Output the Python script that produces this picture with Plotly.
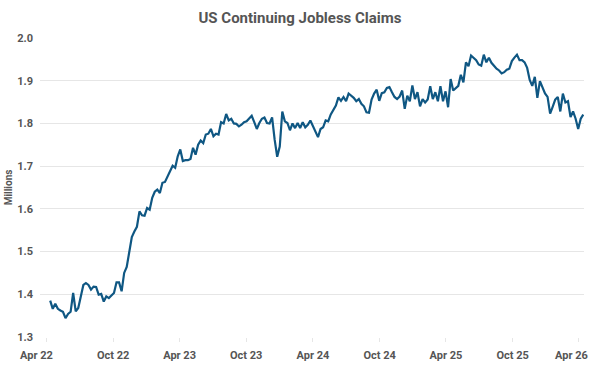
import pandas as pd
import plotly.graph_objects as go

# Weekly US continuing jobless claims, millions
claims_2022 = [1.385, 1.366, 1.378, 1.366, 1.362, 1.359, 1.344, 1.354, 1.359, 1.403,
               1.360, 1.368, 1.395, 1.422, 1.426, 1.422, 1.411, 1.418, 1.417, 1.399,
               1.401, 1.383, 1.395, 1.391, 1.397, 1.403, 1.428, 1.428, 1.407, 1.450,
               1.464, 1.504, 1.534, 1.547, 1.558, 1.594, 1.585, 1.584, 1.602, 1.598,
               1.626, 1.640, 1.645, 1.637, 1.661, 1.663, 1.676, 1.692, 1.701, 1.696,
               1.723, 1.739]
claims_2023 = [1.712, 1.714, 1.714, 1.717, 1.743, 1.727, 1.750, 1.760, 1.754, 1.774,
               1.776, 1.787, 1.770, 1.776, 1.774, 1.803, 1.800, 1.822, 1.807, 1.811,
               1.800, 1.799, 1.793, 1.797, 1.803, 1.805, 1.811, 1.818, 1.803, 1.787,
               1.801, 1.811, 1.814, 1.801, 1.800, 1.814, 1.762, 1.722, 1.746, 1.828,
               1.805, 1.801, 1.784, 1.800, 1.789, 1.801, 1.789, 1.803, 1.791, 1.797,
               1.807, 1.793, 1.779]
claims_2024 = [1.768, 1.787, 1.791, 1.807, 1.805, 1.821, 1.831, 1.842, 1.861, 1.853,
               1.862, 1.852, 1.870, 1.865, 1.860, 1.852, 1.857, 1.846, 1.840, 1.826,
               1.825, 1.856, 1.870, 1.879, 1.853, 1.871, 1.873, 1.883, 1.885, 1.873,
               1.862, 1.857, 1.863, 1.877, 1.834, 1.865, 1.852, 1.889, 1.857, 1.873,
               1.840, 1.857, 1.849, 1.856, 1.887, 1.857, 1.873, 1.852, 1.887, 1.852]
claims_2025 = [1.875, 1.838, 1.904, 1.877, 1.883, 1.888, 1.914, 1.896, 1.943, 1.934,
               1.959, 1.954, 1.948, 1.938, 1.935, 1.961, 1.943, 1.954, 1.942, 1.935,
               1.928, 1.924, 1.917, 1.920, 1.926, 1.928, 1.946, 1.954, 1.961, 1.948,
               1.948, 1.943, 1.930, 1.902, 1.888, 1.909, 1.860, 1.899, 1.883, 1.870,
               1.862, 1.823, 1.839, 1.856, 1.862, 1.828, 1.870, 1.849, 1.852, 1.815,
               1.828, 1.811, 1.787, 1.811, 1.821]

values = claims_2022 + claims_2023 + claims_2024 + claims_2025
dates = pd.date_range("2022-04-11", periods=len(values), freq="7D")

tick_dates = ["2022-04-01", "2022-10-01", "2023-04-01", "2023-10-01", "2024-04-01",
              "2024-10-01", "2025-04-01", "2025-10-01", "2026-04-01"]
tick_labels = ["Apr 22", "Oct 22", "Apr 23", "Oct 23", "Apr 24",
               "Oct 24", "Apr 25", "Oct 25", "Apr 26"]
y_ticks = [1.3, 1.4, 1.5, 1.6, 1.7, 1.8, 1.9, 2.0]

grey = "#555555"
tick_font = dict(family="Roboto", size=11, color=grey, weight="bold")

fig = go.Figure(go.Scatter(x=dates, y=values, mode="lines",
                           line=dict(color="#0f5783", width=2.2),
                           hoverinfo="x+y"))

# edge labels are nudged inward in the reference, so draw them as annotations
inner_text = [""] + tick_labels[1:-1] + [""]
edge_annotations = [
    dict(x=tick_dates[0], xref="x", y=0, yref="paper", yanchor="middle",
         yshift=-18, xshift=-10, text=tick_labels[0], showarrow=False, font=tick_font),
    dict(x=tick_dates[-1], xref="x", y=0, yref="paper", yanchor="middle",
         yshift=-18, xshift=-7, text=tick_labels[-1], showarrow=False, font=tick_font),
]

fig.update_layout(
    width=600, height=374,
    margin=dict(l=40, r=16, t=38, b=37, autoexpand=False),
    paper_bgcolor="white", plot_bgcolor="white",
    showlegend=False,
    title=dict(text="US Continuing Jobless Claims", x=0.5, xanchor="center",
               y=0.952, yanchor="middle",
               font=dict(family="Roboto", size=15, color=grey, weight="bold")),
    font=dict(family="Roboto", color=grey),
    annotations=edge_annotations,
)
fig.update_xaxes(
    range=["2022-03-14", "2026-04-15"],
    tickvals=tick_dates, ticktext=inner_text,
    tickfont=tick_font,
    showgrid=False, zeroline=False, showline=False, automargin=False,
    ticks="outside", ticklen=4, tickcolor="#e6e6e6", tickwidth=1,
    ticklabelstandoff=4,
)
fig.update_yaxes(
    range=[1.3, 2.0], tickvals=y_ticks, tickformat=".1f",
    tickfont=tick_font,
    showgrid=True, gridcolor="#e6e6e6", gridwidth=1, automargin=False,
    zeroline=False, showline=False, ticks="", ticklabelstandoff=6,
    title=dict(text="Millions", standoff=2,
               font=dict(family="Roboto", size=10, color=grey, weight="bold")),
)

fig.write_html("out.html", config={"displayModeBar": False},
               post_script="document.body.style.margin='0';document.body.style.overflow='hidden';")
